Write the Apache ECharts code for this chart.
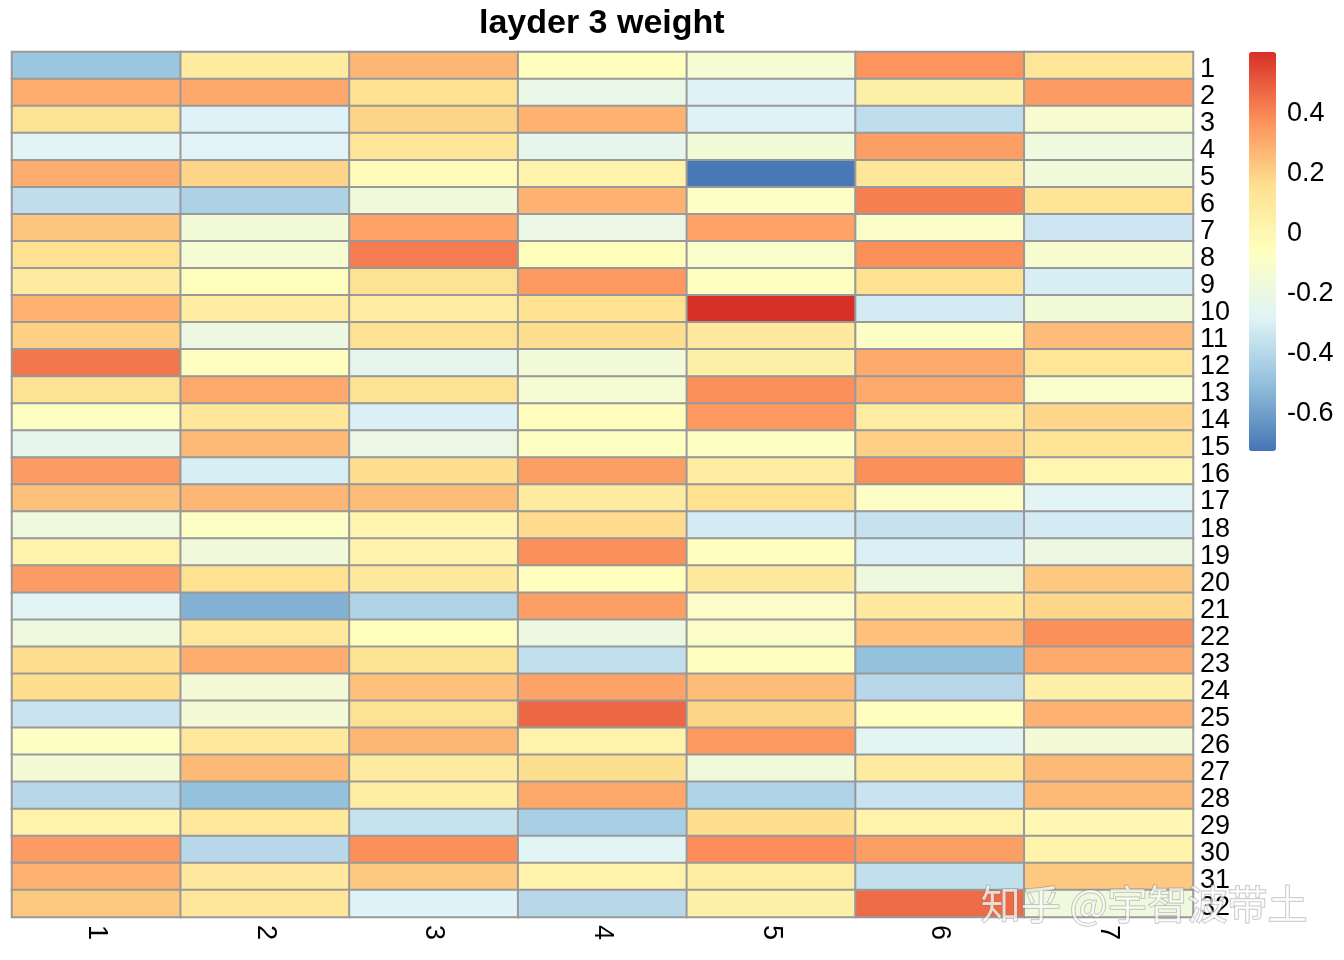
<!DOCTYPE html>
<html>
<head>
<meta charset="utf-8">
<title>layder 3 weight</title>
<script src="https://cdn.jsdelivr.net/npm/echarts@6/dist/echarts.min.js"></script>
<style>
    html, body { margin: 0; padding: 0; background: #fff; }
    #chart { width: 1344px; height: 960px; }
</style>
</head>
<body>
<div id="chart"></div>
<script>
// column names (x) and row names (y)
const colLabels = ['1', '2', '3', '4', '5', '6', '7'];
const rowLabels = ['1', '2', '3', '4', '5', '6', '7', '8', '9', '10', '11', '12', '13', '14', '15', '16',
    '17', '18', '19', '20', '21', '22', '23', '24', '25', '26', '27', '28', '29', '30', '31', '32'];

// weights, one array per column, rows 1..32 top to bottom
const col1 = [-0.48, 0.29, 0.14, -0.27, 0.29, -0.38, 0.23, 0.15, 0.08, 0.28, 0.20, 0.43, 0.14, -0.08, -0.24, 0.34,
    0.24, -0.18, 0.03, 0.34, -0.27, -0.18, 0.16, 0.16, -0.35, -0.08, -0.15, -0.40, 0.03, 0.34, 0.28, 0.22];
const col2 = [0.08, 0.31, -0.29, -0.28, 0.19, -0.43, -0.16, -0.14, -0.05, 0.07, -0.20, -0.06, 0.30, 0.11, 0.26, -0.31,
    0.27, -0.09, -0.17, 0.15, -0.55, 0.10, 0.29, -0.15, -0.15, 0.10, 0.26, -0.50, 0.10, -0.40, 0.09, 0.11];
const col3 = [0.27, 0.15, 0.19, 0.12, -0.04, -0.17, 0.32, 0.42, 0.14, 0.07, 0.14, -0.24, 0.14, -0.30, -0.21, 0.16,
    0.25, 0.01, 0.02, 0.09, -0.42, -0.05, 0.14, 0.24, 0.14, 0.27, 0.08, 0.06, -0.36, 0.37, 0.22, -0.29];
const col4 = [-0.06, -0.22, 0.28, -0.24, 0.03, 0.28, -0.21, -0.05, 0.35, 0.15, 0.16, -0.16, -0.14, -0.05, -0.08, 0.33,
    0.08, 0.17, 0.37, -0.06, 0.33, -0.20, -0.37, 0.32, 0.47, 0.03, 0.16, 0.31, -0.44, -0.27, 0.03, -0.40];
const col5 = [-0.14, -0.29, -0.29, -0.16, -0.72, -0.09, 0.32, -0.11, -0.06, 0.60, 0.09, 0.04, 0.37, 0.35, -0.08, 0.07,
    0.15, -0.32, -0.06, 0.09, -0.10, -0.10, -0.06, 0.25, 0.19, 0.35, -0.17, -0.42, 0.16, 0.38, 0.06, 0.04];
const col6 = [0.36, 0.05, -0.38, 0.33, 0.11, 0.41, -0.10, 0.37, 0.15, -0.32, -0.09, 0.30, 0.30, 0.07, 0.20, 0.37,
    -0.09, -0.36, -0.30, -0.19, 0.09, 0.24, -0.50, -0.40, -0.06, -0.26, 0.08, -0.35, 0.03, 0.33, -0.37, 0.46];
const col7 = [0.12, 0.34, -0.13, -0.18, -0.17, 0.13, -0.34, -0.13, -0.31, -0.16, 0.25, 0.12, -0.11, 0.18, 0.13, 0.00,
    -0.27, -0.32, -0.20, 0.22, 0.18, 0.37, 0.30, 0.04, 0.28, -0.15, 0.26, 0.26, -0.01, 0.03, 0.22, -0.18];

// colour bar ticks
const legendTicks = [0.4, 0.2, 0, -0.2, -0.4, -0.6];

const columns = [col1, col2, col3, col4, col5, col6, col7];
const cells = [];
columns.forEach((col, x) => {
    col.forEach((v, y) => cells.push([x, y, v]));
});

const fontFamily = '"Liberation Sans", Arial, sans-serif';
// rev(brewer.pal(7, "RdYlBu"))
const palette = ['#4575B4', '#91BFDB', '#E0F3F8', '#FFFFBF', '#FEE090', '#FC8D59', '#D73027'];
const valueMin = -0.73;
const valueMax = 0.6;

const option = {
    backgroundColor: '#fff',
    animation: false,
    title: {
        text: 'layder 3 weight',
        left: 479,
        top: 7,
        padding: 0,
        textStyle: {
            fontFamily: fontFamily,
            fontSize: 34,
            fontWeight: 'bold',
            color: '#000'
        }
    },
    grid: [{
        left: 12,
        right: 151,
        top: 52,
        bottom: 43
    }, {
        // holds the colour bar labels only
        left: 1249,
        top: 52,
        width: 27,
        height: 399
    }],
    xAxis: [{
        type: 'category',
        data: colLabels,
        axisLine: { show: false },
        axisTick: { show: false },
        splitArea: { show: false },
        axisLabel: {
            interval: 0,
            rotate: -90,
            margin: 8,
            fontFamily: fontFamily,
            fontSize: 27,
            color: '#000'
        }
    }, {
        type: 'value',
        gridIndex: 1,
        show: false
    }],
    yAxis: [{
        type: 'category',
        data: rowLabels,
        inverse: true,
        position: 'right',
        axisLine: { show: false },
        axisTick: { show: false },
        axisLabel: {
            interval: 0,
            margin: 7,
            fontFamily: fontFamily,
            fontSize: 27,
            color: '#000',
            // nudge the labels a little below the row centre
            verticalAlign: 'top',
            lineHeight: 8
        }
    }, {
        type: 'value',
        gridIndex: 1,
        min: valueMin,
        max: valueMax,
        position: 'right',
        axisLine: { show: false },
        axisTick: { show: false },
        splitLine: { show: false },
        axisLabel: {
            customValues: legendTicks,
            margin: 11,
            fontFamily: fontFamily,
            fontSize: 27,
            color: '#000',
            verticalAlign: 'top',
            lineHeight: 4
        }
    }],
    visualMap: {
        type: 'continuous',
        seriesIndex: 0,
        min: valueMin,
        max: valueMax,
        orient: 'vertical',
        left: 1249,
        top: 52,
        padding: 0,
        itemWidth: 27,
        itemHeight: 399,
        calculable: false,
        hoverLink: false,
        text: null,
        inRange: { color: palette }
    },
    series: [{
        type: 'heatmap',
        data: cells,
        itemStyle: {
            borderColor: '#999999',
            borderWidth: 2
        },
        emphasis: { disabled: true }
    }, {
        type: 'scatter',
        xAxisIndex: 1,
        yAxisIndex: 1,
        data: []
    }],
    graphic: [{
        // zhihu watermark
        type: 'text',
        left: 980,
        top: 883,
        z: 100,
        style: {
            text: '知乎 @宇智波带土',
            font: '40px "Noto Sans CJK SC"',
            fill: 'rgba(255,255,255,0.72)',
            stroke: 'rgba(120,120,120,0.45)',
            lineWidth: 1.5
        }
    }]
};

const chart = echarts.init(document.getElementById('chart'));
chart.setOption(option);
window.addEventListener('resize', () => chart.resize());
</script>
</body>
</html>
